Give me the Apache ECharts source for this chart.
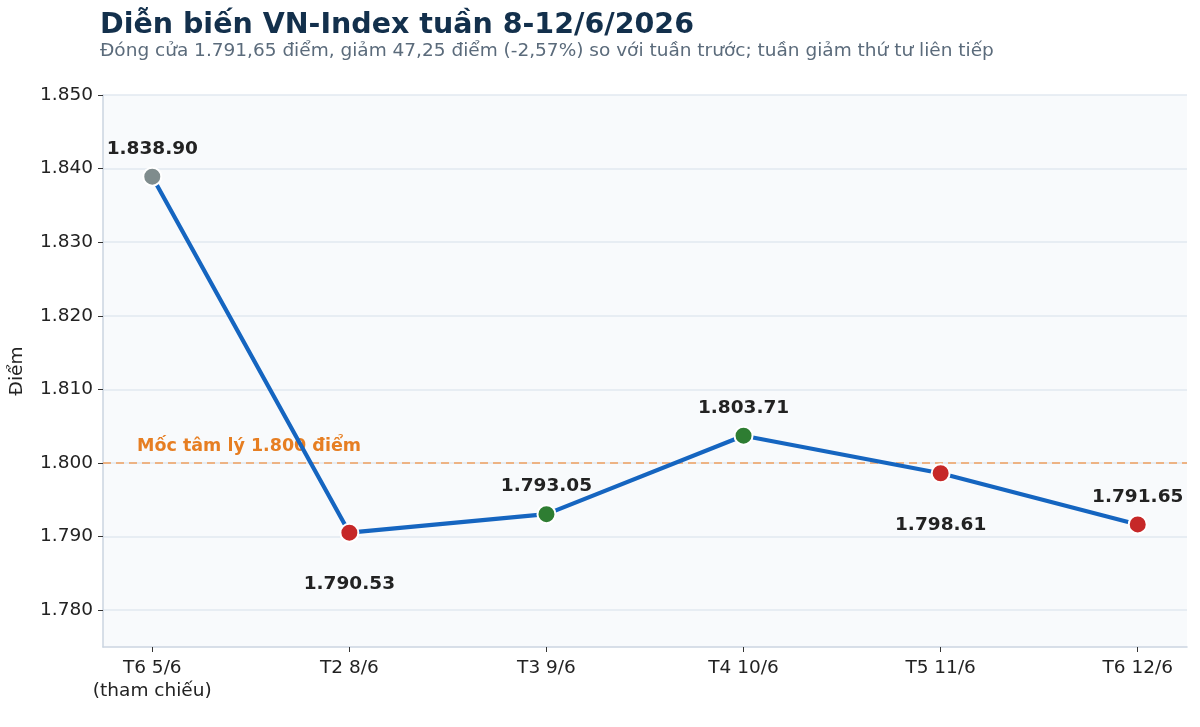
<!DOCTYPE html>
<html lang="vi">
<head>
    <meta charset="utf-8">
    <title>VN-Index</title>
    <script src="https://cdn.jsdelivr.net/npm/echarts@6/dist/echarts.min.js"></script>
    <style>
        html, body { margin: 0; padding: 0; background: #fff; }
        #main { width: 1200px; height: 727px; }
    </style>
</head>
<body>
<div id="main"></div>
<script type="text/javascript">
    // du lieu
    var days = ['T6 5/6\n(tham chiếu)', 'T2 8/6', 'T3 9/6', 'T4 10/6', 'T5 11/6', 'T6 12/6'];
    var closes = [1838.90, 1790.53, 1793.05, 1803.71, 1798.61, 1791.65];
    var yTicks = [1780, 1790, 1800, 1810, 1820, 1830, 1840, 1850];
    var refLevel = 1800;

    // nhan nam duoi diem
    var belowIdx = [1, 4];

    function fmtPoint(v) {
        var s = v.toFixed(2).split('.');
        return s[0].charAt(0) + '.' + s[0].slice(1) + '.' + s[1];
    }
    function fmtTick(v) {
        var s = String(Math.round(v));
        return s.charAt(0) + '.' + s.slice(1);
    }

    var pts = [];
    for (var i = 0; i < closes.length; i++) {
        var color = '#7f8c8d';
        if (i > 0) color = closes[i] >= closes[i - 1] ? '#2e7d32' : '#c62828';
        var below = belowIdx.indexOf(i) >= 0;
        pts.push({
            value: [i, closes[i]],
            itemStyle: {color: color, borderColor: '#fff', borderWidth: 2},
            label: {position: below ? 'bottom' : 'top', distance: below ? 32 : 8}
        });
    }

    var myChart = echarts.init(document.getElementById('main'));
    var option = {
        backgroundColor: '#fff',
        textStyle: {fontFamily: 'DejaVu Sans'},
        title: {
            text: 'Diễn biến VN-Index tuần 8-12/6/2026',
            subtext: 'Đóng cửa 1.791,65 điểm, giảm 47,25 điểm (-2,57%) so với tuần trước; tuần giảm thứ tư liên tiếp',
            left: 95,
            top: 6,
            itemGap: 2,
            textStyle: {fontSize: 28.5, fontWeight: 'bold', color: '#13304c', fontFamily: 'DejaVu Sans'},
            subtextStyle: {fontSize: 18.5, color: '#5b6b7b', fontFamily: 'DejaVu Sans'}
        },
        grid: {
            left: 101, right: 13, top: 95, bottom: 80,
            show: true, backgroundColor: '#f8fafc', borderWidth: 0
        },
        xAxis: {
            type: 'value',
            min: -0.25,
            max: 5.25,
            axisLine: {show: true, onZero: false, lineStyle: {color: '#cbd5e1', width: 1.5}},
            axisTick: {show: true, customValues: [0, 1, 2, 3, 4, 5], length: 5, lineStyle: {color: '#333'}},
            axisLabel: {
                customValues: [0, 1, 2, 3, 4, 5],
                formatter: function (v) { return days[Math.round(v)]; },
                fontSize: 18.5, color: '#222', margin: 10, lineHeight: 23
            },
            splitLine: {show: false}
        },
        yAxis: {
            type: 'value',
            min: 1775,
            max: 1850,
            splitNumber: 7,
            name: 'Điểm',
            nameLocation: 'middle',
            nameGap: 76,
            nameTextStyle: {fontSize: 18.5, color: '#222'},
            axisLine: {show: true, onZero: false, lineStyle: {color: '#cbd5e1', width: 1.5}},
            axisTick: {show: true, customValues: yTicks, length: 5, lineStyle: {color: '#333'}},
            axisLabel: {
                customValues: yTicks,
                formatter: fmtTick,
                fontSize: 18.5, color: '#222', margin: 10
            },
            splitLine: {show: true, lineStyle: {color: '#e2e8f0', width: 1.5}}
        },
        series: [{
            type: 'line',
            data: pts,
            symbol: 'circle',
            symbolSize: 18,
            lineStyle: {color: '#1565c0', width: 4.2},
            label: {
                show: true,
                formatter: function (p) { return fmtPoint(p.value[1]); },
                fontSize: 18.5, fontWeight: 'bold', color: '#222'
            },
            z: 5,
            markLine: {
                silent: true,
                symbol: 'none',
                lineStyle: {color: '#f0a060', type: [8, 5], width: 1.5},
                label: {
                    show: true,
                    position: 'insideStartTop',
                    formatter: 'Mốc tâm lý 1.800 điểm',
                    fontSize: 17.5, fontWeight: 'bold', color: '#e67e22',
                    padding: [0, 0, 0, 26],
                    distance: 8
                },
                data: [{yAxis: refLevel}]
            }
        }]
    };
    myChart.setOption(option);
</script>
</body>
</html>
